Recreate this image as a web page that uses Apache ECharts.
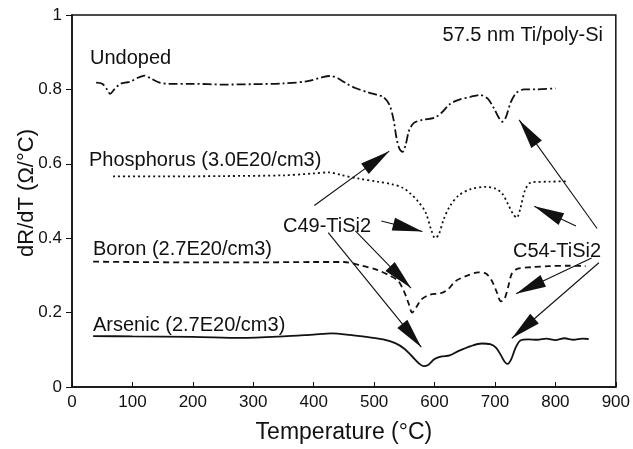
<!DOCTYPE html>
<html>
<head>
<meta charset="utf-8">
<script src="https://cdn.jsdelivr.net/npm/echarts@6/dist/echarts.min.js"></script>
<style>
  html, body { margin: 0; padding: 0; background: #fff; }
  #chart { width: 633px; height: 449px; }
</style>
</head>
<body>
<div id="chart"></div>
<script>
// temperature (C), dR/dT
var undoped = [[40,0.818],[50,0.815],[58,0.800],[63,0.788],[70,0.800],[80,0.815],[95,0.820],[110,0.832],[120,0.837],[130,0.830],[145,0.818],[160,0.815],[200,0.815],[250,0.813],[300,0.814],[350,0.816],[390,0.822],[415,0.833],[428,0.836],[440,0.830],[455,0.815],[470,0.803],[490,0.792],[505,0.785],[515,0.780],[525,0.760],[532,0.720],[537,0.670],[542,0.640],[547,0.632],[552,0.650],[558,0.690],[566,0.710],[580,0.718],[600,0.724],[612,0.738],[625,0.760],[640,0.772],[660,0.780],[675,0.785],[688,0.775],[698,0.750],[706,0.725],[712,0.713],[718,0.725],[726,0.765],[735,0.790],[748,0.800],[770,0.800],[800,0.803]];
var phosphorus = [[68,0.566],[150,0.566],[250,0.567],[350,0.569],[400,0.574],[425,0.577],[445,0.570],[475,0.560],[505,0.552],[530,0.545],[548,0.535],[560,0.520],[572,0.500],[585,0.470],[595,0.420],[601,0.400],[607,0.410],[615,0.450],[625,0.485],[640,0.515],[660,0.532],[685,0.538],[700,0.534],[712,0.520],[722,0.490],[730,0.465],[736,0.455],[742,0.480],[750,0.530],[760,0.550],[790,0.552],[822,0.553]];
var boron = [[35,0.337],[100,0.336],[200,0.335],[300,0.335],[400,0.336],[450,0.336],[480,0.326],[505,0.315],[525,0.300],[540,0.285],[550,0.255],[557,0.225],[563,0.200],[570,0.215],[578,0.235],[592,0.248],[610,0.252],[622,0.262],[635,0.285],[655,0.300],[672,0.308],[685,0.305],[695,0.285],[703,0.255],[710,0.230],[716,0.238],[722,0.270],[728,0.305],[738,0.318],[760,0.322],[790,0.325],[820,0.326],[850,0.325]];
var arsenic = [[35,0.137],[100,0.136],[200,0.135],[280,0.132],[350,0.136],[400,0.141],[430,0.144],[460,0.140],[490,0.134],[515,0.128],[535,0.118],[550,0.103],[563,0.082],[575,0.062],[582,0.056],[590,0.060],[600,0.075],[612,0.082],[625,0.085],[640,0.097],[660,0.110],[678,0.117],[692,0.115],[702,0.105],[710,0.085],[716,0.068],[721,0.062],[727,0.075],[734,0.105],[742,0.125],[755,0.128],[770,0.127],[785,0.130],[800,0.126],[815,0.131],[830,0.127],[845,0.130],[855,0.129]];

// annotation arrows: [tail, tip] in data coords
var c49Arrows = [[[401,0.488],[525,0.634]], [[512,0.446],[580,0.418]], [[469,0.420],[561,0.266]], [[424,0.415],[578,0.107]]];
var c54Arrows = [[[869,0.426],[740,0.718]], [[834,0.433],[765,0.486]], [[860,0.347],[735,0.251]], [[872,0.334],[728,0.131]]];

var font = "'Liberation Sans', Arial, sans-serif";
var ink = "#111";

var chartDom = document.getElementById("chart");
var myChart = echarts.init(chartDom);

function arrowData(list) {
  return list.map(function (a) {
    return [
      { coord: a[0], symbol: "none" },
      { coord: a[1], symbol: "triangle", symbolSize: [13, 30], symbolOffset: [0, "50%"] },
    ];
  });
}

function curve(name, data, type) {
  return {
    name: name,
    type: "line",
    data: data,
    smooth: 0.3,
    showSymbol: false,
    silent: true,
    lineStyle: { color: ink, width: 1.8, type: type },
  };
}

var arsenicSeries = curve("Arsenic", arsenic, "solid");
arsenicSeries.markLine = {
  silent: true,
  animation: false,
  label: { show: false },
  lineStyle: { color: ink, width: 1.1, type: "solid" },
  itemStyle: { color: ink },
  data: arrowData(c49Arrows.concat(c54Arrows)),
};

var option = {
  animation: false,
  grid: { left: 72, right: 16, top: 15, bottom: 51, show: true, borderColor: ink, borderWidth: 1.5 },
  xAxis: {
    type: "value",
    min: 0,
    max: 900,
    interval: 100,
    name: "Temperature (°C)",
    nameLocation: "middle",
    nameGap: 34,
    nameTextStyle: { fontFamily: font, fontSize: 23, color: ink },
    axisLine: { lineStyle: { color: ink, width: 1.5 } },
    axisTick: { inside: true, length: 5, lineStyle: { color: ink } },
    axisLabel: { fontFamily: font, fontSize: 17, color: ink, margin: 7 },
    splitLine: { show: false },
  },
  yAxis: {
    type: "value",
    min: 0,
    max: 1,
    interval: 0.2,
    axisLine: { lineStyle: { color: ink, width: 1.5 } },
    axisTick: { length: 6, lineStyle: { color: ink } },
    axisLabel: { fontFamily: font, fontSize: 17, color: ink, margin: 10 },
    splitLine: { show: false },
  },
  graphic: [
    {
      type: "text", x: 27, y: 193, rotation: Math.PI / 2,
      style: { text: "dR/dT (Ω/°C)", font: "22px " + font, fill: ink, align: "center", verticalAlign: "middle" },
    },
    { type: "text", left: 90, top: 48, style: { text: "Undoped", font: "20px " + font, fill: ink } },
    { type: "text", left: 89, top: 150, style: { text: "Phosphorus (3.0E20/cm3)", font: "20px " + font, fill: ink } },
    { type: "text", left: 93, top: 239, style: { text: "Boron (2.7E20/cm3)", font: "20px " + font, fill: ink } },
    { type: "text", left: 93, top: 315, style: { text: "Arsenic (2.7E20/cm3)", font: "20px " + font, fill: ink } },
    { type: "text", right: 30, top: 25, style: { text: "57.5 nm Ti/poly-Si", font: "20px " + font, fill: ink } },
    { type: "text", left: 283, top: 216, style: { text: "C49-TiSi2", font: "20px " + font, fill: ink } },
    { type: "text", left: 513, top: 241, style: { text: "C54-TiSi2", font: "20px " + font, fill: ink } },
  ],
  series: [
    curve("Undoped", undoped, [9, 3, 2, 3]),
    curve("Phosphorus", phosphorus, [2, 3]),
    curve("Boron", boron, [6, 4]),
    arsenicSeries,
  ],
};

option && myChart.setOption(option);
</script>
</body>
</html>
